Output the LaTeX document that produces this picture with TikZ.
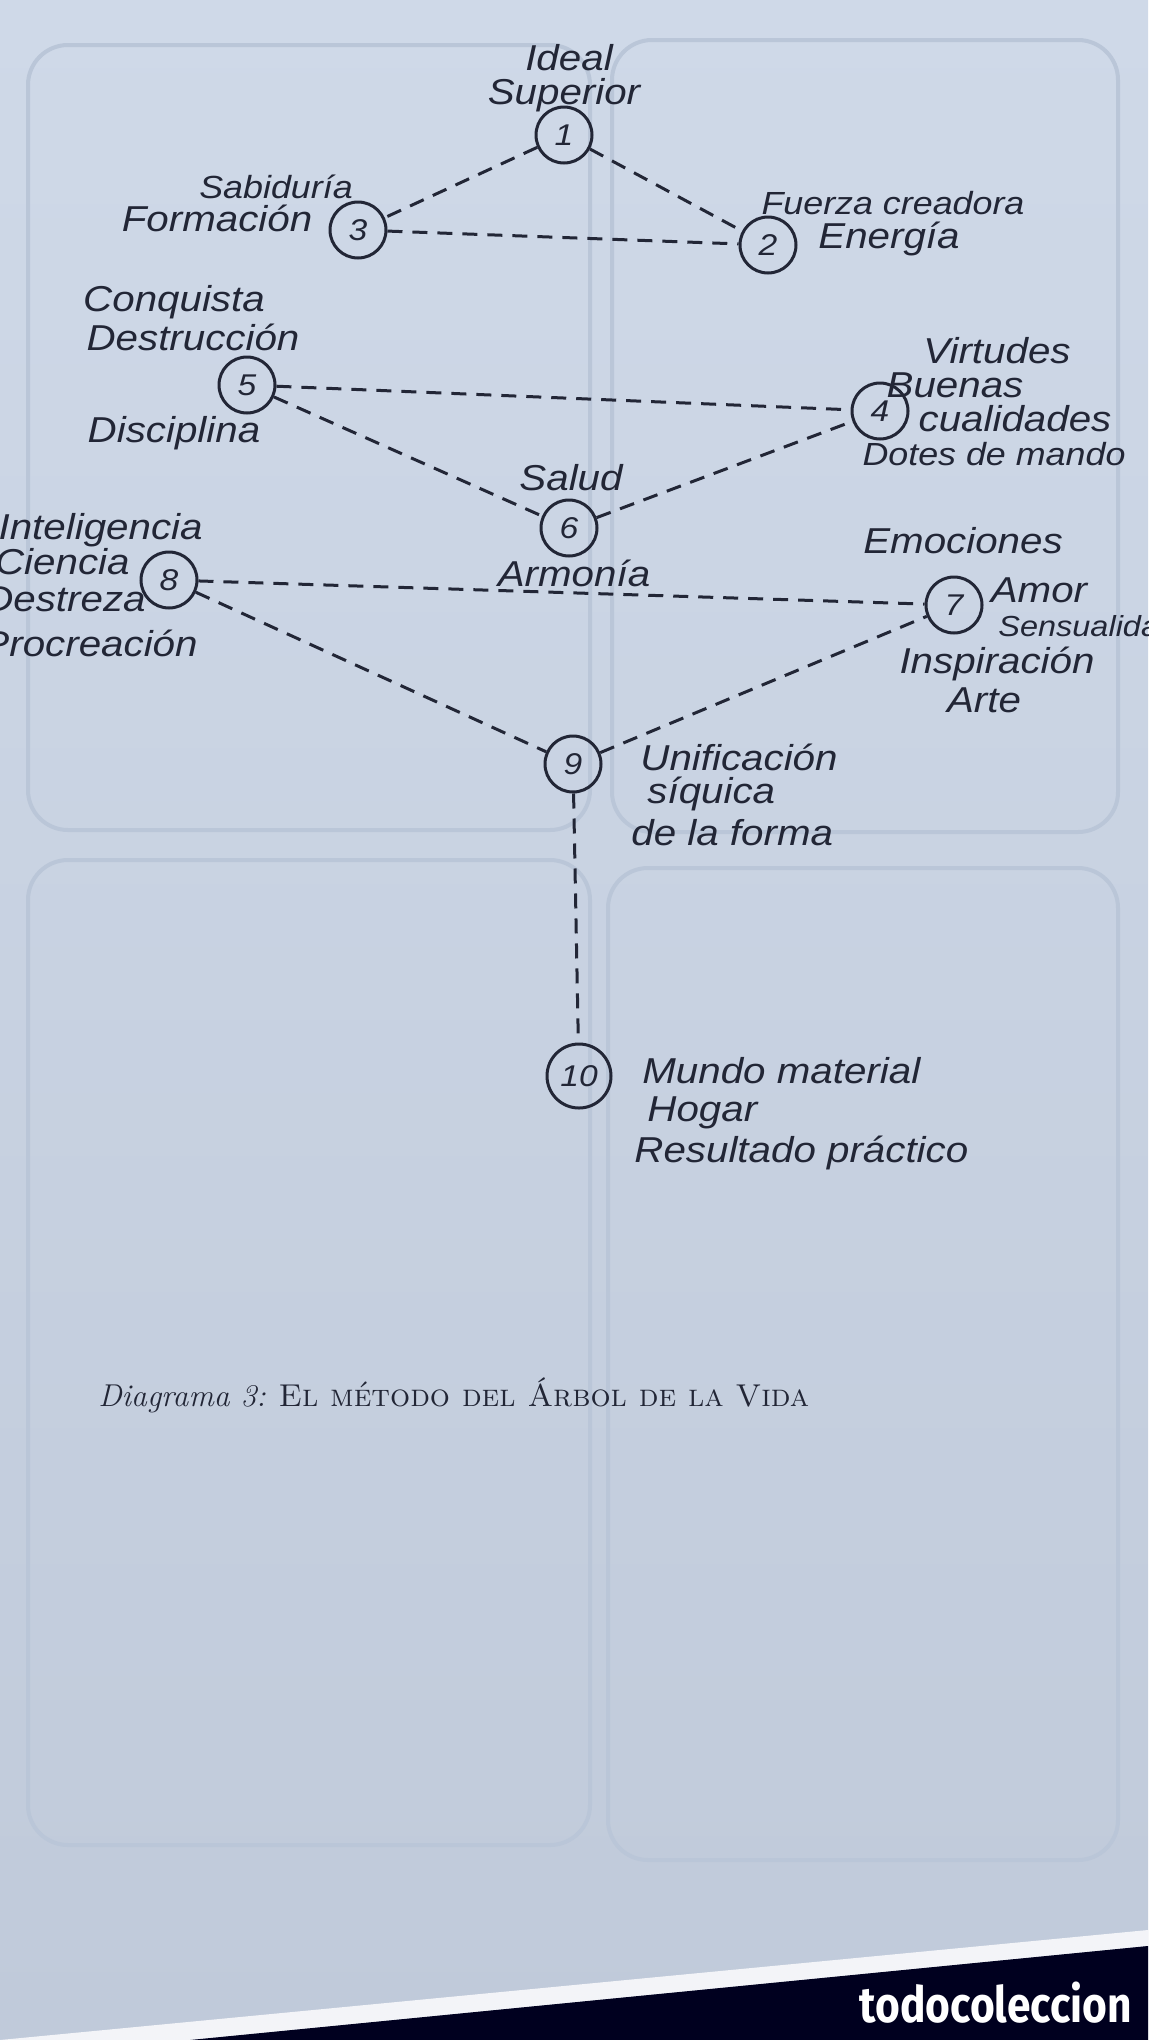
\documentclass[tikz,border=0pt]{standalone}
\usepackage{fontspec}
\usepackage{tikz}
\newfontfamily\handfont[FakeStretch=1.12]{Liberation Sans}
\newfontfamily\markfont{Fira Sans}
\definecolor{pagetop}{RGB}{207,217,232}
\definecolor{pagebot}{RGB}{192,202,218}
\definecolor{cardline}{RGB}{186,198,216}
\definecolor{ink}{RGB}{34,38,54}

\begin{document}
\begin{tikzpicture}[x=0.5pt,y=-0.5pt,
    sefira/.style={circle,draw=ink,line width=1.5pt,minimum size=28pt,inner sep=0pt,
      text=ink,font=\handfont\itshape\fontsize{15}{15}\selectfont},
    senda/.style={draw=ink,line width=1.5pt,dash pattern=on 7.5pt off 5pt},
    lbl/.style={text=ink,inner sep=0pt,font=\handfont\itshape\fontsize{18}{20}\selectfont},
    narrow/.style={font=\handfont\itshape\fontsize{16}{18}\selectfont}]
    % page and the faint cards behind the diagram
    \shade[top color=pagetop, bottom color=pagebot] (0,0) rectangle (1148,2040);
    \useasboundingbox (0,0) rectangle (1148,2040);
    \draw[cardline, line width=2pt, rounded corners=20pt] (28,45) rectangle (590,830);
    \draw[cardline, line width=2pt, rounded corners=20pt] (612,40) rectangle (1118,832);
    \draw[cardline, line width=2pt, rounded corners=20pt] (28,860) rectangle (590,1845);
    \draw[cardline, line width=2pt, rounded corners=20pt] (608,868) rectangle (1118,1860);
    \fill[white!80!pagebot] (0,2040) -- (1148,1930) -- (1148,1946) -- (190,2040) -- cycle;
    \fill[black!88!blue] (190,2040) -- (1148,1946) -- (1148,2040) -- cycle;
    \node[anchor=base east, text=white, xscale=0.85, font=\markfont\bfseries\fontsize{25}{25}\selectfont] (mark) at (1138,2022) {todocoleccion};

    % the ten points
    \node[sefira] (n1) at (564,135) {1};
    \node[sefira] (n2) at (768,245) {2};
    \node[sefira] (n3) at (358,230) {3};
    \node[sefira] (n4) at (880,411) {4};
    \node[sefira] (n5) at (247,385) {5};
    \node[sefira] (n6) at (569,528) {6};
    \node[sefira] (n7) at (954,605) {7};
    \node[sefira] (n8) at (169,580) {8};
    \node[sefira] (n9) at (573,764) {9};
    \node[sefira, minimum size=32pt] (n10) at (579,1076) {10};

    % dashed paths
    \draw[senda] (n1) -- (n3);
    \draw[senda] (n1) -- (n2);
    \draw[senda] (n3) -- (n2);
    \draw[senda] (n5) -- (n4);
    \draw[senda] (n5) -- (n6);
    \draw[senda] (n6) -- (n4);
    \draw[senda] (n8) -- (n7);
    \draw[senda] (n8) -- (n9);
    \draw[senda] (n9) -- (n7);
    \draw[senda] (n9) -- (n10);

    % labels
    \node[lbl] (t1a) at (569,58) {Ideal};
    \node[lbl] (t1b) at (564,95) {Superior};
    \node[lbl, narrow] (t3a) at (276,187) {Sabiduría};
    \node[lbl] (t3b) at (217,218) {Formación};
    \node[lbl, narrow] (t2a) at (893,203) {Fuerza creadora};
    \node[lbl] (t2b) at (889,239) {Energía};
    \node[lbl] (t5a) at (174,302) {Conquista};
    \node[lbl] (t5b) at (193,337) {Destrucción};
    \node[lbl] (t5c) at (174,433) {Disciplina};
    \node[lbl] (t4a) at (997,351) {Virtudes};
    \node[lbl] (t4b) at (955,385) {Buenas};
    \node[lbl] (t4c) at (1015,419) {cualidades};
    \node[lbl, narrow] (t4d) at (994,454) {Dotes de mando};
    \node[lbl] (t6a) at (571,478) {Salud};
    \node[lbl] (t6b) at (574,573) {Armonía};
    \node[lbl, anchor=east] (t8a) at (203,530) {Inteligencia};
    \node[lbl, anchor=east] (t8b) at (130,562) {Ciencia};
    \node[lbl, anchor=east] (t8c) at (146,599) {Destreza};
    \node[lbl, anchor=east] (t8d) at (198,643) {Procreación};
    \node[lbl] (t7a) at (963,541) {Emociones};
    \node[lbl] (t7b) at (1039,590) {Amor};
    \node[lbl, anchor=west, font=\handfont\itshape\fontsize{14.5}{16}\selectfont] (t7c) at (998,626) {Sensualidad};
    \node[lbl] (t7d) at (997,664) {Inspiración};
    \node[lbl] (t7e) at (984,700) {Arte};
    \node[lbl, anchor=west] (t9a) at (640,757) {Unificación};
    \node[lbl, anchor=west] (t9b) at (647,794) {síquica};
    \node[lbl, anchor=west] (t9c) at (631,833) {de la forma};
    \node[lbl, anchor=west] (t10a) at (642,1071) {Mundo material};
    \node[lbl, anchor=west] (t10b) at (647,1113) {Hogar};
    \node[lbl, anchor=west] (t10c) at (634,1153) {Resultado práctico};

    % caption
    \node[anchor=base west, text=ink, inner sep=0pt, font=\fontsize{15.8}{19}\selectfont] (cap) at (98,1406)
      {\textit{Diagrama 3:} \textsc{El método del Árbol de la Vida}};
\end{tikzpicture}
\end{document}
